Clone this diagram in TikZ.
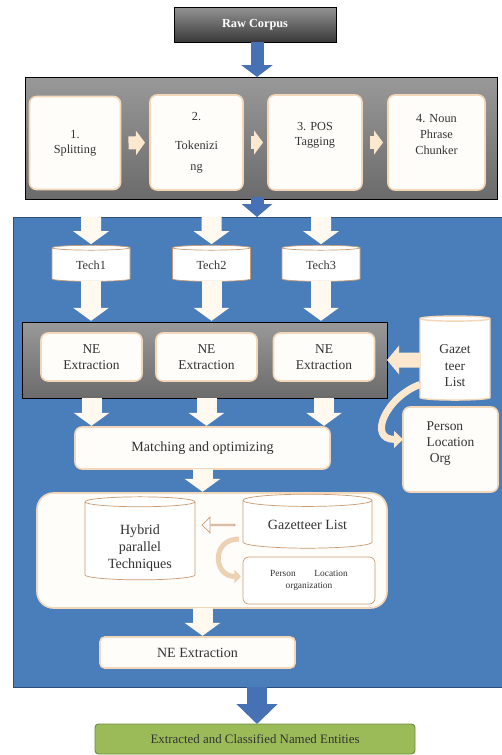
\documentclass[tikz,border=0pt]{standalone}
\usepackage{fontspec}
\setmainfont{Liberation Serif}
\usetikzlibrary{arrows.meta, calc, positioning, shapes.geometric, shapes.arrows}
\definecolor{panelblue}{HTML}{4A7EBB}
\definecolor{paneledge}{HTML}{2F4F7A}
\definecolor{arrowblue}{HTML}{4672B5}
\definecolor{cardfill}{HTML}{FFFDF9}
\definecolor{cardedge}{HTML}{F4D7B8}
\definecolor{arrowcream}{HTML}{FCE8CF}
\definecolor{arrowwhite}{HTML}{FFF9F0}
\definecolor{cylline}{HTML}{C99A72}
\definecolor{textgray}{HTML}{333333}
\definecolor{resultgreen}{HTML}{9BBB59}
\definecolor{resultedge}{HTML}{6E8B3D}
\newcommand{\shiftedtext}[3]{\raisebox{#1}[\height][\depth]{\begin{tabular}{@{}#2@{}}#3\end{tabular}}}

\begin{document}
\begin{tikzpicture}[
  x=0.03cm, y=-0.03cm,
  every node/.style={outer sep=0pt, text=textgray},
  card/.style={rounded corners=6pt, fill=cardfill, draw=cardedge, line width=1.4pt, align=center, inner sep=2pt},
  graystrip/.style={top color=black!40, bottom color=black!58, draw=black, line width=0.8pt},
  dbcyl/.style={cylinder, shape border rotate=90, aspect=0.15, fill=white, draw=cylline, line width=0.6pt, align=center, inner sep=1pt},
  bluearrow/.style={draw=arrowblue, line width=0.39cm, -{Triangle[length=0.36cm, width=0.93cm]}},
  whitearrow/.style={draw=arrowwhite, line width=0.6cm, -{Triangle[length=0.39cm, width=1.05cm]}, shorten >=1pt},
  steparrow/.style={draw=arrowcream, line width=0.39cm, -{Triangle[length=0.27cm, width=0.72cm]}, shorten <=0.24cm, shorten >=0.15cm}
]

\def\pu{0.03cm}

\useasboundingbox (0,0) rectangle (501,755);
\coordinate (spine) at (257,0);

% Raw corpus
\node[
  top color=black!42, bottom color=black!78,
  draw=black, line width=0.8pt,
  minimum width=162*\pu, minimum height=35*\pu,
  font=\bfseries\fontsize{10.5}{12}\selectfont, text=white
] (raw) at (255,24.5) {Raw Corpus};

% Preprocessing strip
\node[graystrip, minimum width=472*\pu, minimum height=122*\pu] (prep) at (261,138) {};
\node[card, minimum width=91*\pu, minimum height=93*\pu, font=\fontsize{10.5}{13}\selectfont]
  (split) at (75,143) {1.\\Splitting};
\node[card, minimum width=93*\pu, minimum height=95*\pu, font=\fontsize{10.5}{13}\selectfont]
  (token) at (196.5,142.5) {2.\\[12pt]Tokenizi\\[5pt]ng};
\node[card, minimum width=94*\pu, minimum height=95*\pu, font=\fontsize{10.5}{13}\selectfont]
  (postag) at (315,142.5) {3. POS\\Tagging\\[2pt]};
\node[card, minimum width=97*\pu, minimum height=95*\pu, font=\fontsize{10.5}{13.6}\selectfont]
  (chunk) at (436.5,142.5) {4. Noun\\Phrase\\Chunker\\[0pt]};
\foreach \a/\b in {split/token, token/postag, postag/chunk}{
  \draw[steparrow] (\a.east) -- (\b.west);
}
\draw[bluearrow] (raw.south -| spine) -- (prep.north -| spine);

% Blue extraction panel
\node[fill=panelblue, draw=paneledge, line width=0.8pt,
  minimum width=492*\pu, minimum height=470*\pu] (panel) at (259,452) {};
\draw[bluearrow, -{Triangle[length=0.39cm, width=0.9cm]}] ([yshift=0.06cm]prep.south -| spine) -- (panel.north -| spine);

% Techniques
\node[dbcyl, minimum width=78*\pu, minimum height=36*\pu, font=\fontsize{10.5}{12}\selectfont]
  (tech1) at (91,265) {Tech1};
\node[dbcyl, minimum width=78*\pu, minimum height=36*\pu, font=\fontsize{10.5}{12}\selectfont]
  (tech2) at (211.5,265) {Tech2};
\node[dbcyl, minimum width=78*\pu, minimum height=36*\pu, font=\fontsize{10.5}{12}\selectfont]
  (tech3) at (321,265) {Tech3};
\foreach \t in {tech1, tech2, tech3}{
  \draw[whitearrow] (panel.north -| \t) -- (\t.north);
}

% NE extraction strip
\node[graystrip, minimum width=365*\pu, minimum height=76*\pu] (negray) at (204.5,360) {};
\node[card, minimum width=101*\pu, minimum height=48*\pu, font=\fontsize{11.5}{13.6}\selectfont]
  (ne1) at (91.5,357) {NE\\Extraction};
\node[card, minimum width=101*\pu, minimum height=48*\pu, font=\fontsize{11.5}{13.6}\selectfont]
  (ne2) at (206.5,357) {NE\\Extraction};
\node[card, minimum width=101*\pu, minimum height=48*\pu, font=\fontsize{11.5}{13.6}\selectfont]
  (ne3) at (324,357) {NE\\Extraction};
\foreach \t in {tech1, tech2, tech3}{
  \draw[whitearrow] (\t.south) -- (\t.south |- negray.north);
}

% Gazetteer on the right
\node[dbcyl, draw=cardedge, line width=1.2pt, minimum width=70*\pu, minimum height=84*\pu,
  font=\fontsize{11.5}{14}\selectfont] (gaz) at (455,360) {\shiftedtext{-6pt}{c}{Gazet\\teer\\List}};
\node[card, minimum width=95*\pu, minimum height=85*\pu, align=left,
  font=\fontsize{11.5}{13.6}\selectfont] (pers) at (450.5,449.5) {\shiftedtext{5pt}{l}{Person\\Location\\\ Org}};
\draw[draw=arrowcream, line width=0.45cm, -{Triangle[length=0.36cm, width=0.84cm]}]
  (gaz.west) -- (negray.east);
\draw[draw=arrowcream, line width=0.21cm, -{Triangle[length=0.27cm, width=0.5cm]}]
  (gaz.215) to[out=200, in=180, looseness=1.6] (pers.168);

% Matching
\node[card, minimum width=255*\pu, minimum height=42*\pu, font=\fontsize{12}{14}\selectfont]
  (match) at (202.5,448) {Matching and optimizing};
\foreach \n in {ne1, ne2, ne3}{
  \draw[whitearrow] (\n |- negray.south) -- (\n |- match.north);
}

% Hybrid group
\node[card, rounded corners=14pt, minimum width=350*\pu, minimum height=115*\pu]
  (hybrid) at (212,550.5) {};
\node[dbcyl, minimum width=110*\pu, minimum height=83*\pu, font=\fontsize{12}{14.5}\selectfont]
  (hcyl) at (140,541.5) {\shiftedtext{-6pt}{c}{Hybrid\\parallel\\Techniques}};
\node[dbcyl, minimum width=129*\pu, minimum height=54*\pu, font=\fontsize{12}{14}\selectfont]
  (gcyl) at (307.5,525) {Gazetteer List};
\node[rounded corners=5pt, fill=white, draw=cylline, line width=0.6pt, align=center,
  minimum width=132*\pu, minimum height=47*\pu, font=\fontsize{8}{10}\selectfont]
  (plo) at (309,580.5) {Person\hspace{2em}Location\\organization};
\node[single arrow, shape border rotate=180, fill=white, draw=cylline, line width=0.6pt,
  minimum height=33*\pu, minimum width=16*\pu, single arrow head extend=3*\pu, inner sep=0pt]
  (gazlink) at ($(hcyl.east |- gcyl.west)!0.5!(gcyl.west)$) {};
\draw[draw=arrowcream!70!cylline, line width=0.15cm, -{Triangle[length=0.2cm, width=0.4cm]}]
  ($(gcyl.west)+(-4,14)$) to[out=180, in=180, looseness=1.9] ($(plo.west)+(-2,-4)$);
\draw[whitearrow] (match.south) -- (match.south |- hybrid.north);

% NE extraction output
\node[card, rounded corners=4pt, minimum width=195*\pu, minimum height=31*\pu,
  font=\fontsize{12}{14}\selectfont] (neout) at (197.5,652.5) {NE Extraction};
\draw[whitearrow] (hybrid.south -| match.south) -- (neout.north -| match.south);

% Result
\node[fill=resultgreen, draw=resultedge, line width=0.8pt, rounded corners=3pt,
  minimum width=320*\pu, minimum height=30*\pu, font=\fontsize{11}{13}\selectfont]
  (result) at (255,739) {Extracted and Classified Named Entities};
\draw[bluearrow, line width=0.6cm, -{Triangle[length=0.6cm, width=1.2cm]}]
  (panel.south -| spine) -- (result.north -| spine);

\end{tikzpicture}
\end{document}
